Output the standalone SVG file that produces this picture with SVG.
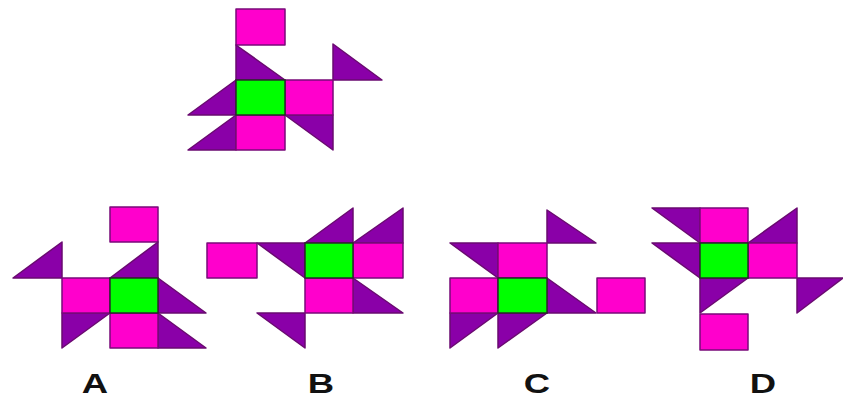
<svg xmlns="http://www.w3.org/2000/svg" width="843" height="400" viewBox="0 0 843 400">
<style>
.m{fill:#ff00cc;stroke:#7a0a7a;stroke-width:1.5;stroke-linejoin:round}
.p{fill:#8a00a8;stroke:#6a0a70;stroke-width:1.5;stroke-linejoin:round}
.g{fill:#00ff00;stroke:#2a2a2a;stroke-width:1.5}
.lbl{font-family:"Liberation Sans",Arial,sans-serif;font-weight:bold;font-size:27px;fill:#111}
</style>
<rect width="843" height="400" fill="#fff"/>
<g id="question">
<rect class="m" x="236" y="9" width="49" height="36"/>
<polygon class="p" points="236,45 236,80 285,80"/>
<polygon class="p" points="333,44 333,80 382,80"/>
<polygon class="p" points="188,115 236,80 236,115"/>
<polygon class="p" points="188,150 236,115 236,150"/>
<polygon class="p" points="285,115 333,115 333,150"/>
<rect class="m" x="285" y="80" width="48" height="35"/>
<rect class="m" x="236" y="115" width="49" height="35"/>
<rect class="g" x="236" y="80" width="49" height="35"/>
</g>
<g id="optionA">
<rect class="m" x="110" y="207" width="48" height="35"/>
<polygon class="p" points="13,278 62,242 62,278"/>
<polygon class="p" points="110,278 158,242 158,278"/>
<polygon class="p" points="158,278 158,313 206,313"/>
<polygon class="p" points="62,313 110,313 62,348"/>
<polygon class="p" points="158,313 158,348 206,348"/>
<rect class="m" x="62" y="278" width="48" height="35"/>
<rect class="m" x="110" y="313" width="48" height="35"/>
<rect class="g" x="110" y="278" width="48" height="35"/>
</g>
<g id="optionB">
<polygon class="p" points="305,243 353,208 353,243"/>
<polygon class="p" points="353,243 403,208 403,243"/>
<polygon class="p" points="257,243 305,243 305,278"/>
<polygon class="p" points="353,278 353,313 403,313"/>
<polygon class="p" points="257,313 305,313 305,348"/>
<rect class="m" x="207" y="243" width="50" height="35"/>
<rect class="m" x="353" y="243" width="50" height="35"/>
<rect class="m" x="305" y="278" width="48" height="35"/>
<rect class="g" x="305" y="243" width="48" height="35"/>
</g>
<g id="optionC">
<polygon class="p" points="547,210 547,243 596,243"/>
<polygon class="p" points="450,243 498,243 498,278"/>
<polygon class="p" points="547,278 547,313 596,313"/>
<polygon class="p" points="450,313 498,313 450,348"/>
<polygon class="p" points="498,313 547,313 498,348"/>
<rect class="m" x="498" y="243" width="49" height="35"/>
<rect class="m" x="450" y="278" width="48" height="35"/>
<rect class="m" x="597" y="278" width="48" height="35"/>
<rect class="g" x="498" y="278" width="49" height="35"/>
</g>
<g id="optionD">
<polygon class="p" points="652,208 700,208 700,243"/>
<polygon class="p" points="748,243 797,208 797,243"/>
<polygon class="p" points="652,243 700,243 700,278"/>
<polygon class="p" points="700,278 748,278 700,313"/>
<polygon class="p" points="797,278 843,278 797,313"/>
<rect class="m" x="700" y="208" width="48" height="35"/>
<rect class="m" x="748" y="243" width="49" height="35"/>
<rect class="m" x="700" y="314" width="48" height="36"/>
<rect class="g" x="700" y="243" width="48" height="35"/>
</g>
<g id="labels">
<text class="lbl" text-anchor="middle" transform="translate(95,393) scale(1.35,1)">A</text>
<text class="lbl" text-anchor="middle" transform="translate(321,393) scale(1.35,1)">B</text>
<text class="lbl" text-anchor="middle" transform="translate(537,393) scale(1.35,1)">C</text>
<text class="lbl" text-anchor="middle" transform="translate(763,393) scale(1.35,1)">D</text>
</g>
</svg>
